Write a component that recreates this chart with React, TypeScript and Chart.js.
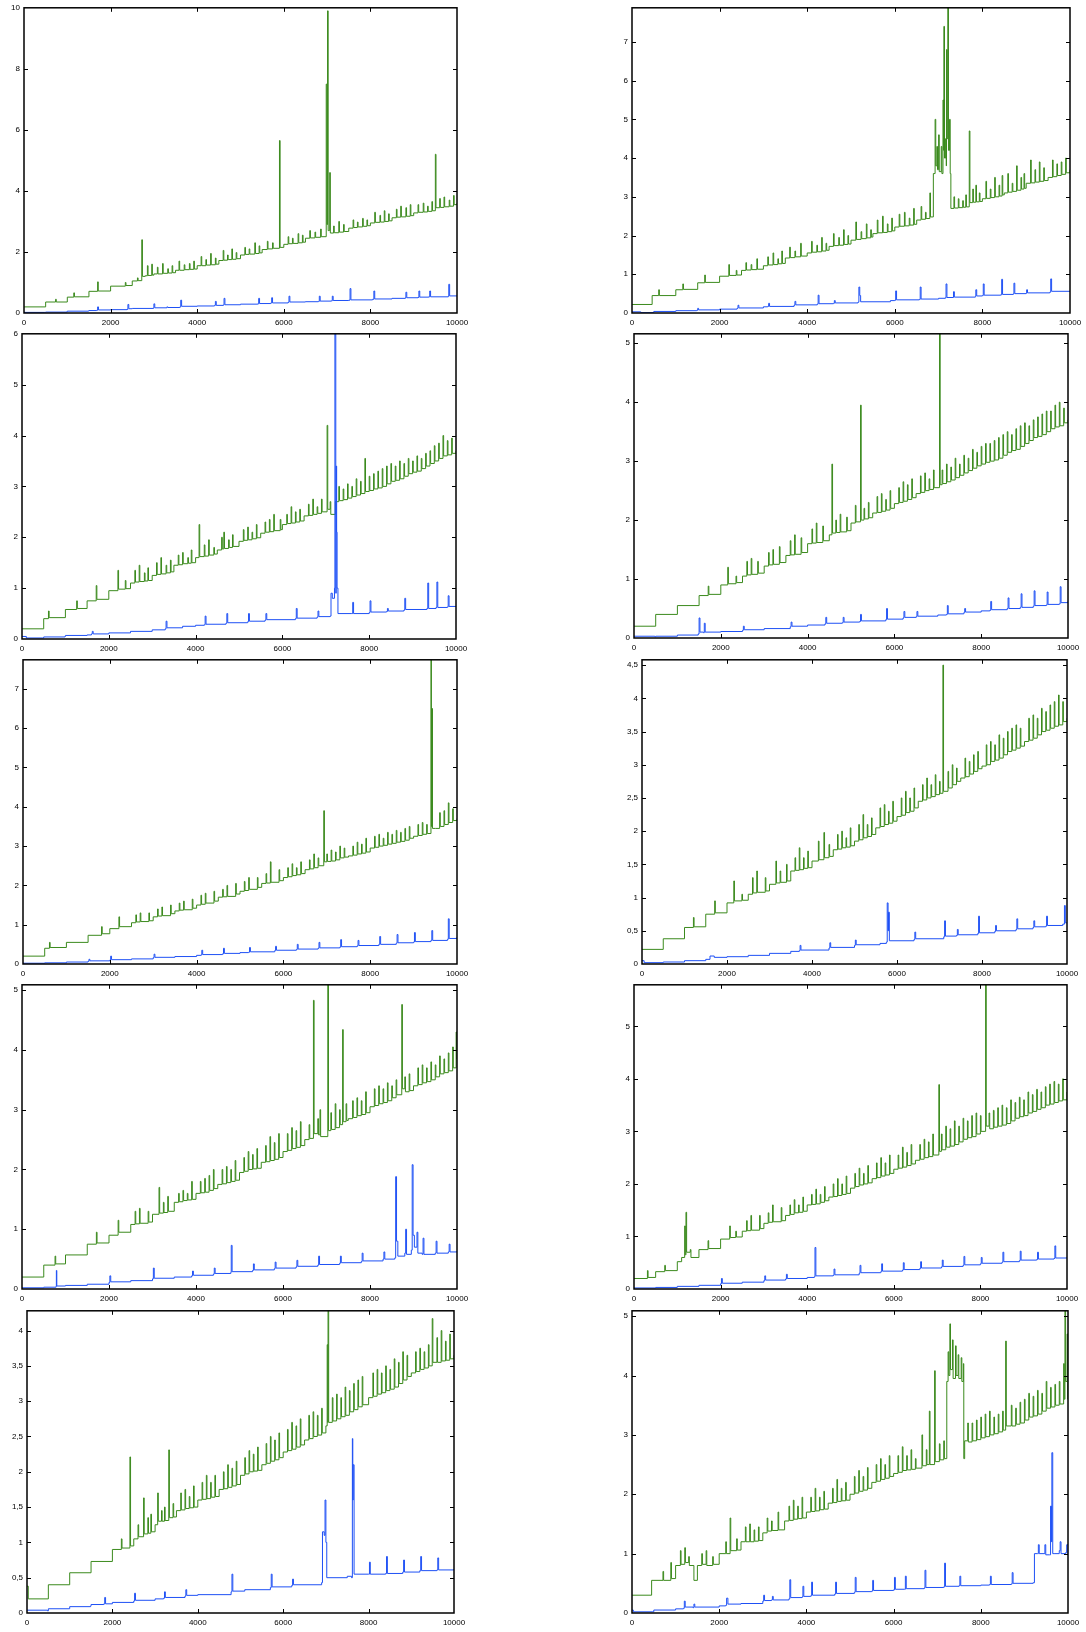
import React, { useEffect, useRef } from "react";
import { Chart, registerables } from "chart.js";

Chart.register(...registerables);

// ---------- data ----------
// green series: flat lists x0, y0, x1, y1, ...
const P1_GREEN = [0,0.2, 500,0.36, 730,0.45, 745,0.36, 1000,0.52, 1150,0.66, 1165,0.53, 1500,0.71, 1700,1.02, 1715,0.72, 2000,0.88, 2340,1.0, 2355,0.9, 2500,1.05, 2620,1.15, 2635,1.06, 2720,2.4, 2735,1.2, 2800,1.22, 2850,1.55, 2865,1.23, 2950,1.6, 2965,1.24, 3000,1.28, 3080,1.5, 3095,1.28, 3200,1.62, 3215,1.3, 3320,1.45, 3335,1.31, 3420,1.55, 3435,1.32, 3500,1.4, 3580,1.7, 3595,1.4, 3700,1.58, 3715,1.42, 3820,1.62, 3835,1.43, 3920,1.7, 3935,1.44, 4000,1.55, 4090,1.85, 4105,1.55, 4200,1.75, 4215,1.57, 4310,1.95, 4325,1.58, 4420,1.8, 4435,1.6, 4500,1.72, 4600,2.05, 4615,1.73, 4700,1.9, 4715,1.75, 4800,2.1, 4815,1.76, 4900,1.98, 4915,1.78, 5000,1.9, 5100,2.15, 5115,1.92, 5200,2.1, 5215,1.93, 5330,2.3, 5345,1.95, 5430,2.2, 5445,1.97, 5500,2.08, 5620,2.35, 5635,2.1, 5740,2.3, 5755,2.12, 5900,5.65, 5915,2.15, 6000,2.25, 6100,2.5, 6115,2.27, 6200,2.45, 6215,2.28, 6330,2.6, 6345,2.3, 6430,2.55, 6445,2.32, 6500,2.45, 6600,2.7, 6615,2.46, 6720,2.65, 6735,2.48, 6850,2.75, 6865,2.5, 6980,7.5, 6995,2.9, 7010,9.9, 7025,2.7, 7060,4.6, 7075,2.62, 7150,2.85, 7165,2.63, 7270,3.0, 7285,2.65, 7380,2.9, 7395,2.67, 7500,2.78, 7600,3.05, 7615,2.8, 7700,2.98, 7715,2.82, 7820,3.1, 7835,2.84, 7920,3.05, 7935,2.86, 8000,2.95, 8100,3.3, 8115,2.97, 8220,3.2, 8235,2.98, 8320,3.35, 8335,3.0, 8420,3.25, 8435,3.02, 8500,3.12, 8600,3.4, 8615,3.14, 8700,3.5, 8715,3.15, 8820,3.45, 8835,3.17, 8920,3.55, 8935,3.19, 9000,3.28, 9100,3.55, 9115,3.3, 9220,3.6, 9235,3.31, 9320,3.5, 9335,3.33, 9420,3.65, 9435,3.35, 9500,5.2, 9515,3.45, 9600,3.75, 9615,3.46, 9700,3.8, 9715,3.48, 9820,3.7, 9835,3.5, 9920,3.85, 9935,3.55, 10000,3.6];
const P2_GREEN = [0,0.22, 460,0.45, 610,0.6, 625,0.45, 1000,0.6, 1160,0.75, 1175,0.61, 1500,0.78, 1660,0.98, 1675,0.79, 2000,0.95, 2210,1.25, 2225,0.97, 2380,1.1, 2395,0.98, 2500,1.1, 2600,1.3, 2615,1.11, 2720,1.25, 2735,1.12, 2850,1.4, 2865,1.13, 3000,1.22, 3100,1.45, 3115,1.24, 3220,1.55, 3235,1.25, 3330,1.4, 3345,1.27, 3420,1.6, 3435,1.28, 3500,1.42, 3600,1.7, 3615,1.43, 3720,1.6, 3735,1.45, 3850,1.8, 3865,1.47, 4000,1.55, 4100,1.85, 4115,1.57, 4220,1.75, 4235,1.58, 4330,1.95, 4345,1.6, 4430,1.8, 4445,1.62, 4500,1.72, 4600,2.05, 4615,1.74, 4720,1.95, 4735,1.75, 4830,2.15, 4845,1.77, 4930,2.0, 4945,1.78, 5000,1.88, 5110,2.35, 5125,1.9, 5230,2.1, 5245,1.92, 5350,2.3, 5365,1.94, 5450,2.15, 5465,1.96, 5500,2.05, 5600,2.4, 5615,2.07, 5720,2.5, 5735,2.08, 5830,2.3, 5845,2.1, 5930,2.45, 5945,2.12, 6000,2.22, 6100,2.55, 6115,2.24, 6220,2.6, 6235,2.25, 6330,2.45, 6345,2.27, 6430,2.7, 6445,2.29, 6500,2.4, 6600,2.75, 6615,2.42, 6700,2.6, 6715,2.44, 6800,3.1, 6815,2.48, 6880,3.6, 6920,5.0, 6935,3.8, 6960,4.3, 6975,3.7, 7000,4.6, 7015,3.65, 7060,4.3, 7075,3.6, 7100,5.5, 7115,4.2, 7120,7.4, 7135,4.0, 7160,4.5, 7175,3.8, 7180,6.8, 7195,4.5, 7210,7.88, 7225,4.2, 7250,5.0, 7265,3.6, 7280,2.7, 7350,3.0, 7365,2.71, 7450,2.95, 7465,2.72, 7550,2.9, 7565,2.73, 7620,3.05, 7635,2.74, 7700,4.7, 7715,2.85, 7780,3.2, 7795,2.86, 7850,3.3, 7865,2.87, 7930,3.1, 7945,2.88, 8000,2.95, 8080,3.4, 8095,2.96, 8180,3.2, 8195,2.98, 8280,3.5, 8295,3.0, 8380,3.3, 8395,3.02, 8450,3.55, 8465,3.05, 8500,3.1, 8580,3.6, 8595,3.12, 8680,3.35, 8695,3.14, 8780,3.8, 8795,3.17, 8880,3.5, 8895,3.2, 8950,3.6, 8965,3.22, 9000,3.35, 9100,3.95, 9115,3.36, 9200,3.7, 9215,3.38, 9300,3.9, 9315,3.4, 9400,3.75, 9415,3.42, 9500,3.5, 9600,3.95, 9615,3.52, 9700,3.85, 9715,3.55, 9800,3.9, 9815,3.58, 9900,4.0, 9915,3.62, 10000,3.7];
const P3_GREEN = [0,0.2, 500,0.4, 610,0.55, 625,0.42, 1000,0.58, 1260,0.75, 1275,0.6, 1500,0.75, 1710,1.05, 1725,0.78, 2000,0.95, 2210,1.35, 2225,0.98, 2380,1.15, 2395,0.99, 2500,1.1, 2600,1.35, 2615,1.12, 2700,1.45, 2715,1.13, 2820,1.3, 2835,1.14, 2900,1.4, 2915,1.15, 3000,1.25, 3100,1.5, 3115,1.27, 3200,1.6, 3215,1.28, 3320,1.45, 3335,1.3, 3420,1.55, 3435,1.32, 3500,1.45, 3600,1.65, 3615,1.46, 3700,1.7, 3715,1.48, 3820,1.6, 3835,1.49, 3900,1.75, 3915,1.5, 4000,1.6, 4080,2.25, 4095,1.62, 4200,1.85, 4215,1.63, 4300,1.95, 4315,1.65, 4420,1.8, 4435,1.67, 4500,1.75, 4600,2.0, 4615,1.77, 4650,2.1, 4665,1.78, 4760,1.95, 4775,1.8, 4850,2.05, 4865,1.82, 5000,1.92, 5100,2.15, 5115,1.94, 5200,2.2, 5215,1.95, 5300,2.1, 5315,1.97, 5400,2.25, 5415,1.99, 5500,2.08, 5600,2.3, 5615,2.1, 5700,2.35, 5715,2.11, 5800,2.45, 5815,2.13, 5950,2.35, 5965,2.15, 6000,2.25, 6100,2.45, 6115,2.27, 6200,2.6, 6215,2.28, 6300,2.5, 6315,2.3, 6400,2.55, 6415,2.32, 6500,2.42, 6600,2.65, 6615,2.43, 6700,2.75, 6715,2.45, 6800,2.6, 6815,2.47, 6900,2.75, 6915,2.5, 7030,4.2, 7045,2.55, 7100,2.7, 7115,2.45, 7220,2.7, 7300,3.0, 7315,2.72, 7400,2.95, 7415,2.74, 7500,3.05, 7515,2.77, 7600,3.0, 7615,2.8, 7700,3.15, 7715,2.83, 7800,3.1, 7815,2.86, 7900,3.55, 7915,2.9, 8000,3.2, 8015,2.92, 8100,3.25, 8115,2.95, 8200,3.3, 8215,2.97, 8300,3.35, 8315,3.0, 8400,3.4, 8415,3.05, 8500,3.45, 8515,3.1, 8600,3.4, 8615,3.12, 8700,3.5, 8715,3.15, 8800,3.45, 8815,3.2, 8900,3.55, 8915,3.25, 9000,3.5, 9015,3.28, 9100,3.6, 9115,3.3, 9200,3.55, 9215,3.35, 9300,3.65, 9315,3.4, 9400,3.7, 9415,3.45, 9500,3.8, 9515,3.5, 9600,3.85, 9615,3.55, 9700,4.0, 9715,3.6, 9800,3.9, 9815,3.62, 9900,3.95, 9915,3.65, 10000,3.7];
const P4_GREEN = [0,0.2, 500,0.4, 1000,0.55, 1500,0.72, 1710,0.88, 1725,0.74, 2000,0.9, 2160,1.2, 2175,0.92, 2350,1.05, 2365,0.94, 2500,1.05, 2600,1.3, 2615,1.07, 2700,1.35, 2715,1.08, 2850,1.3, 2865,1.1, 3000,1.22, 3100,1.45, 3115,1.24, 3200,1.5, 3215,1.25, 3350,1.55, 3365,1.28, 3500,1.4, 3600,1.65, 3615,1.41, 3700,1.75, 3715,1.42, 3850,1.7, 3865,1.45, 4000,1.6, 4100,1.85, 4115,1.61, 4200,1.95, 4215,1.62, 4350,1.9, 4365,1.65, 4500,1.75, 4560,2.95, 4575,1.78, 4650,2.0, 4665,1.79, 4750,2.1, 4765,1.8, 4900,2.05, 4915,1.82, 5000,1.95, 5100,2.25, 5115,1.97, 5220,3.95, 5235,2.0, 5300,2.2, 5315,2.02, 5400,2.3, 5415,2.04, 5500,2.12, 5600,2.4, 5615,2.13, 5700,2.45, 5715,2.15, 5800,2.35, 5815,2.17, 5900,2.5, 5915,2.2, 6000,2.28, 6100,2.55, 6115,2.3, 6200,2.65, 6215,2.32, 6300,2.6, 6315,2.35, 6400,2.7, 6415,2.38, 6500,2.45, 6600,2.75, 6615,2.47, 6700,2.8, 6715,2.5, 6800,2.7, 6815,2.52, 6900,2.85, 6915,2.55, 7040,5.16, 7055,2.6, 7100,2.85, 7115,2.62, 7200,2.95, 7215,2.65, 7300,2.9, 7315,2.68, 7400,3.05, 7415,2.72, 7500,2.95, 7515,2.76, 7600,3.1, 7615,2.8, 7700,3.05, 7715,2.84, 7800,3.2, 7815,2.88, 7900,3.15, 7915,2.92, 8000,3.25, 8015,2.95, 8100,3.3, 8115,2.98, 8200,3.3, 8215,3.0, 8300,3.35, 8315,3.02, 8400,3.4, 8415,3.05, 8500,3.45, 8515,3.1, 8600,3.5, 8615,3.15, 8700,3.45, 8715,3.18, 8800,3.55, 8815,3.2, 8900,3.6, 8915,3.25, 9000,3.65, 9015,3.3, 9100,3.6, 9115,3.35, 9200,3.7, 9215,3.4, 9300,3.75, 9315,3.42, 9400,3.8, 9415,3.45, 9500,3.85, 9515,3.5, 9600,3.85, 9615,3.55, 9700,3.95, 9715,3.58, 9800,4.0, 9815,3.6, 9900,3.9, 9915,3.65, 10000,3.7];
const P5_GREEN = [0,0.2, 500,0.4, 610,0.55, 625,0.42, 1000,0.55, 1500,0.73, 1810,0.95, 1825,0.77, 2000,0.9, 2210,1.2, 2225,0.95, 2500,1.05, 2600,1.25, 2615,1.07, 2700,1.3, 2715,1.08, 2900,1.3, 2915,1.1, 3000,1.2, 3100,1.4, 3115,1.22, 3200,1.45, 3215,1.23, 3400,1.5, 3415,1.28, 3500,1.35, 3600,1.55, 3615,1.37, 3700,1.6, 3715,1.38, 3900,1.65, 3915,1.42, 4000,1.5, 4100,1.75, 4115,1.52, 4200,1.8, 4215,1.55, 4400,1.85, 4415,1.6, 4500,1.7, 4600,1.9, 4615,1.71, 4700,2.0, 4715,1.72, 4900,2.05, 4915,1.78, 5000,1.85, 5100,2.1, 5115,1.87, 5200,2.2, 5215,1.9, 5400,2.2, 5415,1.95, 5500,2.05, 5600,2.3, 5615,2.06, 5700,2.6, 5715,2.08, 5900,2.4, 5915,2.12, 6000,2.2, 6100,2.45, 6115,2.22, 6200,2.55, 6215,2.25, 6300,2.45, 6315,2.27, 6400,2.6, 6415,2.3, 6500,2.4, 6600,2.65, 6615,2.42, 6700,2.8, 6715,2.45, 6800,2.7, 6815,2.5, 6930,3.9, 6945,2.6, 7000,2.8, 7015,2.61, 7100,2.9, 7115,2.62, 7200,2.85, 7215,2.65, 7300,3.0, 7315,2.7, 7400,2.95, 7415,2.72, 7500,2.75, 7600,3.0, 7615,2.77, 7700,3.1, 7715,2.8, 7800,3.05, 7815,2.82, 7900,3.2, 7915,2.85, 8000,2.95, 8100,3.25, 8115,2.97, 8200,3.3, 8215,3.0, 8300,3.2, 8315,3.02, 8400,3.35, 8415,3.05, 8500,3.3, 8515,3.07, 8600,3.4, 8615,3.1, 8700,3.35, 8715,3.12, 8800,3.45, 8815,3.15, 8900,3.5, 8915,3.2, 9000,3.25, 9100,3.55, 9115,3.27, 9200,3.6, 9215,3.3, 9300,3.55, 9315,3.32, 9400,7.74, 9410,3.5, 9420,6.5, 9435,3.45, 9500,3.45, 9600,3.85, 9615,3.5, 9700,3.9, 9715,3.55, 9800,4.1, 9815,3.6, 9900,3.95, 9915,3.65, 10000,3.7];
const P6_GREEN = [0,0.22, 500,0.38, 1000,0.55, 1210,0.7, 1225,0.56, 1500,0.75, 1710,0.95, 1725,0.77, 2000,0.92, 2160,1.25, 2175,0.95, 2350,1.05, 2365,0.96, 2500,1.05, 2600,1.3, 2615,1.07, 2700,1.4, 2715,1.08, 2900,1.3, 2915,1.1, 3000,1.2, 3150,1.55, 3165,1.22, 3250,1.4, 3265,1.23, 3400,1.5, 3415,1.25, 3500,1.4, 3600,1.6, 3615,1.41, 3700,1.75, 3715,1.42, 3800,1.6, 3815,1.44, 3900,1.7, 3915,1.45, 4000,1.55, 4150,1.85, 4165,1.57, 4280,1.98, 4295,1.6, 4400,1.8, 4415,1.62, 4500,1.72, 4600,1.95, 4615,1.73, 4700,2.0, 4715,1.75, 4800,1.9, 4815,1.76, 4900,2.05, 4915,1.78, 5000,1.85, 5100,2.1, 5115,1.87, 5200,2.25, 5215,1.9, 5300,2.1, 5315,1.92, 5400,2.2, 5415,1.95, 5500,2.05, 5600,2.35, 5615,2.07, 5700,2.4, 5715,2.1, 5800,2.3, 5815,2.12, 5900,2.45, 5915,2.15, 6000,2.22, 6100,2.5, 6115,2.24, 6200,2.6, 6215,2.28, 6300,2.5, 6315,2.3, 6400,2.65, 6415,2.35, 6500,2.45, 6600,2.7, 6615,2.47, 6700,2.8, 6715,2.5, 6800,2.7, 6815,2.52, 6900,2.85, 6915,2.55, 7000,2.75, 7015,2.57, 7080,4.5, 7095,2.6, 7200,2.9, 7215,2.65, 7300,3.0, 7315,2.7, 7400,2.95, 7415,2.75, 7500,2.8, 7600,3.1, 7615,2.82, 7700,3.05, 7715,2.86, 7800,3.15, 7815,2.9, 7900,3.2, 7915,2.94, 8000,2.98, 8100,3.3, 8115,3.0, 8200,3.35, 8215,3.05, 8300,3.3, 8315,3.07, 8400,3.45, 8415,3.1, 8500,3.4, 8515,3.15, 8600,3.5, 8615,3.2, 8700,3.55, 8715,3.22, 8800,3.6, 8815,3.25, 8900,3.55, 8915,3.28, 9000,3.35, 9100,3.7, 9115,3.37, 9200,3.75, 9215,3.4, 9300,3.7, 9315,3.45, 9400,3.85, 9415,3.5, 9500,3.8, 9515,3.52, 9600,3.9, 9615,3.55, 9700,3.95, 9715,3.58, 9800,4.05, 9815,3.6, 9900,3.95, 9915,3.65, 10000,3.7];
const P7_GREEN = [0,0.2, 500,0.4, 760,0.55, 775,0.42, 1000,0.57, 1500,0.75, 1710,0.95, 1725,0.77, 2000,0.9, 2210,1.15, 2225,0.95, 2500,1.08, 2600,1.3, 2615,1.09, 2700,1.35, 2715,1.1, 2900,1.3, 2915,1.12, 3000,1.25, 3150,1.7, 3165,1.27, 3250,1.45, 3265,1.28, 3350,1.55, 3365,1.3, 3500,1.45, 3600,1.6, 3615,1.46, 3700,1.65, 3715,1.48, 3800,1.6, 3815,1.49, 3900,1.8, 3915,1.5, 4000,1.6, 4100,1.8, 4115,1.61, 4200,1.85, 4215,1.62, 4300,1.9, 4315,1.65, 4400,2.0, 4415,1.68, 4500,1.75, 4600,2.0, 4615,1.76, 4700,2.05, 4715,1.78, 4800,2.0, 4815,1.8, 4900,2.15, 4915,1.82, 5000,1.95, 5100,2.2, 5115,1.97, 5200,2.3, 5215,2.0, 5300,2.25, 5315,2.01, 5400,2.35, 5415,2.02, 5500,2.12, 5600,2.4, 5615,2.13, 5700,2.55, 5715,2.15, 5800,2.45, 5815,2.17, 5900,2.6, 5915,2.2, 6000,2.3, 6100,2.6, 6115,2.32, 6200,2.7, 6215,2.35, 6300,2.65, 6315,2.37, 6400,2.8, 6415,2.4, 6500,2.5, 6600,2.75, 6615,2.52, 6700,4.83, 6715,2.6, 6800,2.85, 6815,2.58, 6850,3.0, 6865,2.55, 7030,5.09, 7045,2.65, 7100,2.95, 7115,2.67, 7200,3.1, 7215,2.7, 7300,3.0, 7315,2.75, 7370,4.34, 7385,2.8, 7450,3.1, 7465,2.82, 7500,2.85, 7600,3.15, 7615,2.87, 7700,3.2, 7715,2.9, 7800,3.15, 7815,2.92, 7900,3.3, 7915,2.95, 8000,3.05, 8100,3.35, 8115,3.07, 8200,3.4, 8215,3.1, 8300,3.35, 8315,3.12, 8400,3.45, 8415,3.15, 8500,3.4, 8515,3.2, 8600,3.5, 8615,3.25, 8730,4.76, 8745,3.35, 8800,3.55, 8815,3.3, 8900,3.6, 8915,3.32, 9000,3.4, 9100,3.7, 9115,3.42, 9200,3.75, 9215,3.45, 9300,3.7, 9315,3.47, 9400,3.8, 9415,3.5, 9500,3.75, 9515,3.55, 9600,3.9, 9615,3.6, 9700,3.85, 9715,3.62, 9800,3.95, 9815,3.65, 9900,4.05, 9915,3.7, 9980,4.3, 9995,3.85, 10000,3.85];
const P8_GREEN = [0,0.2, 310,0.35, 325,0.22, 500,0.33, 710,0.45, 725,0.35, 1000,0.52, 1100,0.6, 1170,1.2, 1185,0.65, 1200,1.46, 1215,0.7, 1300,0.75, 1315,0.6, 1500,0.75, 1710,0.92, 1725,0.77, 2000,0.95, 2210,1.2, 2225,0.98, 2350,1.1, 2365,0.99, 2500,1.1, 2600,1.3, 2615,1.11, 2700,1.4, 2715,1.12, 2900,1.4, 2915,1.15, 3000,1.25, 3100,1.45, 3115,1.27, 3200,1.6, 3215,1.28, 3400,1.55, 3415,1.3, 3500,1.4, 3600,1.6, 3615,1.42, 3700,1.7, 3715,1.45, 3800,1.6, 3815,1.46, 3900,1.75, 3915,1.48, 4000,1.6, 4100,1.8, 4115,1.61, 4200,1.9, 4215,1.62, 4300,1.8, 4315,1.65, 4400,1.95, 4415,1.68, 4500,1.75, 4600,2.0, 4615,1.76, 4700,2.1, 4715,1.78, 4800,2.0, 4815,1.8, 4900,2.15, 4915,1.82, 5000,1.92, 5100,2.2, 5115,1.95, 5200,2.3, 5215,1.98, 5300,2.2, 5315,2.0, 5400,2.35, 5415,2.02, 5500,2.1, 5600,2.4, 5615,2.12, 5700,2.5, 5715,2.15, 5800,2.4, 5815,2.17, 5900,2.55, 5915,2.2, 6000,2.28, 6100,2.55, 6115,2.3, 6200,2.7, 6215,2.32, 6300,2.6, 6315,2.35, 6400,2.75, 6415,2.38, 6500,2.45, 6600,2.75, 6615,2.47, 6700,2.85, 6715,2.5, 6800,2.8, 6815,2.52, 6900,2.95, 6915,2.55, 7040,3.89, 7055,2.62, 7100,2.95, 7115,2.65, 7200,3.1, 7215,2.7, 7300,3.05, 7315,2.72, 7400,3.2, 7415,2.75, 7500,3.1, 7515,2.8, 7600,3.25, 7615,2.85, 7700,3.2, 7715,2.88, 7800,3.3, 7815,2.9, 7900,3.35, 7915,2.95, 8000,3.3, 8015,3.0, 8120,5.79, 8135,3.1, 8200,3.35, 8215,3.05, 8300,3.4, 8315,3.08, 8400,3.45, 8415,3.1, 8500,3.5, 8515,3.12, 8600,3.45, 8615,3.15, 8700,3.6, 8715,3.2, 8800,3.55, 8815,3.25, 8900,3.65, 8915,3.28, 9000,3.6, 9015,3.3, 9100,3.75, 9115,3.35, 9200,3.7, 9215,3.38, 9300,3.8, 9315,3.42, 9400,3.75, 9415,3.45, 9500,3.85, 9515,3.5, 9600,3.9, 9615,3.52, 9700,3.95, 9715,3.55, 9800,3.9, 9815,3.58, 9900,4.0, 9915,3.6, 10000,3.75];
const P9_GREEN = [0,0.38, 30,0.2, 500,0.4, 1000,0.57, 1500,0.73, 2000,0.9, 2210,1.05, 2225,0.92, 2410,2.21, 2425,0.95, 2500,1.05, 2600,1.25, 2615,1.08, 2730,1.63, 2745,1.12, 2830,1.35, 2845,1.13, 2900,1.4, 2915,1.15, 3000,1.25, 3060,1.7, 3075,1.3, 3150,1.45, 3165,1.3, 3220,1.5, 3235,1.31, 3320,2.31, 3335,1.35, 3420,1.55, 3435,1.36, 3500,1.45, 3600,1.7, 3615,1.46, 3700,1.75, 3715,1.48, 3800,1.65, 3815,1.49, 3900,1.8, 3915,1.5, 4000,1.6, 4100,1.85, 4115,1.61, 4200,1.95, 4215,1.62, 4300,1.85, 4315,1.64, 4400,1.95, 4415,1.65, 4500,1.75, 4600,2.0, 4615,1.76, 4700,2.1, 4715,1.78, 4800,2.05, 4815,1.8, 4900,2.15, 4915,1.82, 5000,1.95, 5100,2.2, 5115,1.97, 5200,2.3, 5215,2.0, 5300,2.25, 5315,2.01, 5400,2.35, 5415,2.02, 5500,2.1, 5600,2.4, 5615,2.12, 5700,2.5, 5715,2.15, 5800,2.45, 5815,2.17, 5900,2.55, 5915,2.2, 6000,2.28, 6100,2.6, 6115,2.3, 6200,2.7, 6215,2.32, 6300,2.65, 6315,2.35, 6400,2.75, 6415,2.38, 6500,2.45, 6600,2.8, 6615,2.47, 6700,2.85, 6715,2.5, 6800,2.8, 6815,2.52, 6900,2.9, 6915,2.55, 7000,2.65, 7030,3.8, 7045,2.7, 7050,4.28, 7065,2.7, 7150,3.05, 7165,2.72, 7250,3.1, 7265,2.75, 7350,3.05, 7365,2.78, 7450,3.2, 7465,2.8, 7550,3.15, 7565,2.85, 7650,3.25, 7665,2.88, 7750,3.3, 7765,2.92, 7850,3.35, 7865,2.95, 8000,3.05, 8100,3.4, 8115,3.07, 8200,3.45, 8215,3.1, 8300,3.4, 8315,3.12, 8400,3.5, 8415,3.15, 8500,3.45, 8515,3.17, 8600,3.6, 8615,3.2, 8700,3.55, 8715,3.25, 8800,3.7, 8815,3.3, 8900,3.65, 8915,3.35, 9000,3.4, 9100,3.7, 9115,3.42, 9200,3.75, 9215,3.45, 9300,3.7, 9315,3.47, 9400,3.8, 9415,3.5, 9490,4.17, 9505,3.55, 9600,3.9, 9615,3.55, 9700,4.0, 9715,3.57, 9800,3.85, 9815,3.58, 9900,3.95, 9915,3.6, 10000,3.65];
const P10_GREEN = [0,0.3, 450,0.55, 710,0.7, 725,0.55, 890,0.85, 905,0.58, 1000,0.8, 1110,1.05, 1125,0.82, 1210,1.1, 1225,0.85, 1300,0.95, 1315,0.8, 1420,0.55, 1500,0.8, 1600,1.0, 1615,0.82, 1700,1.05, 1715,0.8, 1850,0.95, 1865,0.82, 2000,1.0, 2150,1.2, 2165,1.0, 2250,1.6, 2265,1.05, 2400,1.25, 2415,1.06, 2500,1.2, 2600,1.45, 2615,1.2, 2700,1.5, 2715,1.2, 2800,1.4, 2815,1.21, 2900,1.45, 2915,1.22, 3000,1.35, 3100,1.6, 3115,1.38, 3200,1.55, 3215,1.39, 3350,1.7, 3365,1.4, 3500,1.55, 3600,1.8, 3615,1.56, 3700,1.9, 3715,1.58, 3800,1.8, 3815,1.59, 3900,1.95, 3915,1.6, 4000,1.7, 4100,1.95, 4115,1.71, 4200,2.1, 4215,1.72, 4300,1.95, 4315,1.74, 4400,2.05, 4415,1.75, 4500,1.85, 4600,2.1, 4615,1.86, 4700,2.25, 4715,1.88, 4800,2.1, 4815,1.89, 4900,2.2, 4915,1.9, 5000,2.0, 5100,2.3, 5115,2.02, 5200,2.4, 5215,2.05, 5300,2.3, 5315,2.07, 5400,2.45, 5415,2.1, 5500,2.2, 5600,2.5, 5615,2.22, 5700,2.6, 5715,2.25, 5800,2.5, 5815,2.27, 5900,2.65, 5915,2.3, 6000,2.35, 6100,2.65, 6115,2.37, 6200,2.8, 6215,2.4, 6300,2.65, 6315,2.41, 6400,2.75, 6415,2.42, 6500,2.6, 6515,2.44, 6650,3.0, 6665,2.48, 6750,2.75, 6765,2.5, 6820,3.4, 6835,2.5, 6940,4.08, 6955,2.55, 7050,2.85, 7065,2.58, 7150,2.9, 7165,2.6, 7220,3.9, 7250,4.4, 7265,4.0, 7290,4.87, 7305,4.1, 7350,4.6, 7365,3.95, 7420,4.5, 7435,4.0, 7480,4.35, 7495,3.95, 7550,4.3, 7565,3.9, 7600,4.2, 7610,2.6, 7630,2.9, 7700,3.2, 7715,2.88, 7800,3.2, 7815,2.9, 7900,3.25, 7915,2.92, 8000,3.3, 8015,2.95, 8100,3.35, 8115,2.97, 8200,3.4, 8215,3.0, 8300,3.3, 8315,3.02, 8400,3.35, 8415,3.05, 8500,3.4, 8515,3.08, 8570,4.58, 8585,3.15, 8700,3.5, 8715,3.15, 8800,3.45, 8815,3.18, 8900,3.55, 8915,3.2, 9000,3.6, 9015,3.25, 9100,3.7, 9115,3.3, 9200,3.65, 9215,3.32, 9300,3.75, 9315,3.35, 9400,3.7, 9415,3.4, 9500,3.9, 9515,3.45, 9600,3.8, 9615,3.47, 9700,3.85, 9715,3.5, 9800,3.9, 9815,3.52, 9900,4.2, 9915,3.6, 9930,5.09, 9945,3.9, 9980,4.7, 9995,3.6, 10000,3.6];

// blue series: [x, y] pairs
const P1_BLUE = [[0,0.02],[480,0.02],[500,0.03],[990,0.04],[1000,0.06],[1490,0.07],[1500,0.08],[1680,0.09],[1700,0.2],[1720,0.1],[2000,0.11],[2380,0.12],[2400,0.28],[2420,0.14],[2500,0.15],[2990,0.16],[3000,0.3],[3020,0.17],[3300,0.2],[3320,0.18],[3600,0.2],[3620,0.42],[3640,0.22],[4000,0.23],[4400,0.25],[4420,0.38],[4440,0.25],[4600,0.26],[4620,0.48],[4640,0.27],[5000,0.29],[5400,0.3],[5420,0.48],[5440,0.31],[5700,0.33],[5720,0.5],[5740,0.33],[6100,0.35],[6120,0.55],[6140,0.36],[6500,0.37],[6800,0.38],[6820,0.55],[6840,0.39],[7100,0.4],[7120,0.55],[7140,0.41],[7500,0.42],[7530,0.8],[7550,0.43],[8050,0.45],[8080,0.72],[8100,0.46],[8500,0.48],[8800,0.49],[8820,0.68],[8840,0.5],[9100,0.51],[9120,0.72],[9140,0.52],[9350,0.53],[9370,0.72],[9390,0.53],[9800,0.55],[9810,0.94],[9830,0.56],[10000,0.56]];
const P2_BLUE = [[0,0.03],[200,0.01],[480,0.02],[500,0.04],[1000,0.06],[1480,0.07],[1500,0.12],[1520,0.08],[2000,0.1],[2400,0.12],[2420,0.2],[2440,0.13],[3000,0.16],[3100,0.17],[3120,0.25],[3140,0.17],[3700,0.2],[3720,0.3],[3740,0.21],[4230,0.23],[4250,0.46],[4270,0.24],[4600,0.25],[4620,0.32],[4640,0.26],[5160,0.28],[5180,0.67],[5200,0.45],[5220,0.29],[5900,0.32],[6000,0.33],[6020,0.57],[6040,0.34],[6560,0.35],[6580,0.67],[6600,0.36],[7000,0.38],[7150,0.39],[7170,0.75],[7190,0.4],[7330,0.4],[7340,0.55],[7360,0.41],[7840,0.43],[7850,0.6],[7870,0.44],[8000,0.45],[8020,0.75],[8040,0.46],[8420,0.47],[8440,0.87],[8460,0.48],[8700,0.49],[8720,0.77],[8740,0.5],[9000,0.51],[9010,0.6],[9030,0.52],[9540,0.54],[9560,0.88],[9580,0.56],[10000,0.57]];
const P3_BLUE = [[0,0.05],[100,0.02],[480,0.02],[500,0.04],[990,0.05],[1000,0.07],[1500,0.08],[1600,0.1],[1620,0.15],[1640,0.1],[2000,0.12],[2500,0.15],[3000,0.18],[3300,0.2],[3320,0.35],[3340,0.22],[3700,0.25],[4000,0.27],[4200,0.28],[4220,0.45],[4240,0.29],[4700,0.31],[4720,0.5],[4740,0.32],[5200,0.34],[5220,0.5],[5240,0.35],[5600,0.37],[5620,0.5],[5640,0.38],[6300,0.4],[6320,0.6],[6340,0.41],[6800,0.43],[6820,0.55],[6840,0.44],[7100,0.45],[7120,0.9],[7150,0.8],[7200,1.0],[7210,6.0],[7230,0.9],[7240,3.4],[7250,2.1],[7260,1.0],[7280,0.5],[7600,0.5],[7620,0.72],[7640,0.5],[8000,0.52],[8020,0.75],[8040,0.53],[8400,0.54],[8420,0.6],[8440,0.55],[8800,0.57],[8820,0.8],[8840,0.58],[9330,0.6],[9350,1.1],[9370,0.6],[9540,0.62],[9560,1.12],[9580,0.62],[9800,0.63],[9820,0.85],[9840,0.64],[10000,0.65]];
const P4_BLUE = [[0,0.03],[480,0.02],[500,0.03],[1000,0.05],[1480,0.07],[1500,0.34],[1520,0.1],[1600,0.09],[1620,0.25],[1640,0.1],[2000,0.11],[2500,0.13],[2520,0.2],[2540,0.14],[3000,0.16],[3600,0.19],[3620,0.27],[3640,0.2],[4000,0.22],[4400,0.24],[4420,0.35],[4440,0.25],[4800,0.26],[4820,0.35],[4840,0.27],[5200,0.28],[5220,0.4],[5240,0.29],[5800,0.31],[5820,0.5],[5840,0.32],[6200,0.34],[6220,0.45],[6240,0.35],[6500,0.36],[6520,0.45],[6540,0.37],[7000,0.39],[7200,0.4],[7220,0.55],[7240,0.41],[7600,0.43],[7620,0.5],[7640,0.44],[8000,0.46],[8200,0.47],[8220,0.62],[8240,0.48],[8600,0.5],[8620,0.68],[8640,0.5],[8900,0.52],[8920,0.75],[8940,0.52],[9200,0.54],[9220,0.8],[9240,0.55],[9500,0.56],[9520,0.78],[9540,0.57],[9800,0.58],[9820,0.87],[9840,0.6],[10000,0.62]];
const P5_BLUE = [[0,0.02],[500,0.03],[1000,0.05],[1500,0.07],[1520,0.12],[1540,0.08],[2000,0.1],[2020,0.2],[2040,0.11],[2500,0.13],[3000,0.16],[3020,0.25],[3040,0.17],[3500,0.19],[4000,0.22],[4100,0.23],[4120,0.35],[4140,0.24],[4600,0.26],[4620,0.4],[4640,0.27],[5000,0.29],[5200,0.3],[5220,0.42],[5240,0.31],[5800,0.34],[5820,0.45],[5840,0.35],[6300,0.37],[6320,0.5],[6340,0.38],[6800,0.4],[6820,0.55],[6840,0.41],[7300,0.43],[7320,0.62],[7340,0.44],[7700,0.46],[7720,0.6],[7740,0.47],[8200,0.5],[8220,0.7],[8240,0.5],[8600,0.53],[8620,0.75],[8640,0.54],[9000,0.56],[9020,0.8],[9040,0.57],[9400,0.6],[9420,0.85],[9440,0.6],[9780,0.63],[9800,1.15],[9820,0.65],[10000,0.68]];
const P6_BLUE = [[0,0.05],[50,0.02],[500,0.03],[1000,0.05],[1500,0.07],[1600,0.12],[1700,0.1],[2000,0.11],[2500,0.13],[3000,0.16],[3500,0.19],[3700,0.2],[3720,0.28],[3740,0.21],[4400,0.24],[4420,0.32],[4440,0.25],[5000,0.28],[5020,0.36],[5040,0.29],[5600,0.31],[5750,0.33],[5770,0.92],[5790,0.5],[5800,0.78],[5820,0.35],[6400,0.37],[6420,0.48],[6440,0.38],[7100,0.41],[7120,0.65],[7140,0.42],[7400,0.43],[7420,0.52],[7440,0.44],[7900,0.46],[7920,0.72],[7940,0.47],[8300,0.49],[8320,0.58],[8340,0.5],[8800,0.52],[8820,0.68],[8840,0.53],[9200,0.55],[9220,0.65],[9240,0.56],[9500,0.57],[9520,0.72],[9540,0.58],[9900,0.6],[9940,0.88],[9960,0.62],[10000,0.62]];
const P7_BLUE = [[0,0.02],[500,0.03],[780,0.04],[790,0.31],[800,0.05],[1000,0.06],[1500,0.08],[2000,0.11],[2020,0.22],[2040,0.12],[2500,0.14],[3000,0.17],[3020,0.35],[3040,0.18],[3500,0.2],[3900,0.22],[3920,0.3],[3940,0.23],[4400,0.25],[4420,0.35],[4440,0.26],[4800,0.28],[4810,0.73],[4830,0.29],[5300,0.31],[5320,0.42],[5340,0.32],[5800,0.34],[5820,0.45],[5840,0.35],[6300,0.37],[6320,0.48],[6340,0.38],[6800,0.4],[6820,0.55],[6840,0.41],[7300,0.43],[7320,0.55],[7340,0.44],[7800,0.46],[7820,0.6],[7840,0.47],[8300,0.5],[8320,0.62],[8340,0.5],[8570,0.52],[8590,1.88],[8610,0.8],[8640,0.55],[8800,0.6],[8820,1.0],[8840,0.58],[8950,0.65],[8970,2.08],[8990,0.9],[9020,0.7],[9080,0.95],[9100,0.6],[9200,0.58],[9220,0.85],[9240,0.58],[9500,0.6],[9520,0.8],[9540,0.6],[9800,0.62],[9820,0.75],[9840,0.62],[10000,0.63]];
const P8_BLUE = [[0,0.02],[500,0.03],[1000,0.05],[1500,0.07],[2000,0.1],[2020,0.2],[2040,0.11],[2500,0.13],[3000,0.16],[3020,0.25],[3040,0.17],[3500,0.19],[3520,0.28],[3540,0.2],[4000,0.22],[4160,0.23],[4180,0.79],[4200,0.25],[4600,0.26],[4620,0.38],[4640,0.27],[5200,0.3],[5220,0.45],[5240,0.31],[5700,0.33],[5720,0.48],[5740,0.34],[6200,0.36],[6220,0.5],[6240,0.37],[6600,0.39],[6620,0.52],[6640,0.4],[7100,0.42],[7120,0.55],[7140,0.43],[7600,0.45],[7620,0.62],[7640,0.46],[8000,0.48],[8020,0.6],[8040,0.49],[8500,0.51],[8520,0.7],[8540,0.52],[8900,0.54],[8920,0.72],[8940,0.55],[9300,0.56],[9320,0.7],[9340,0.57],[9700,0.58],[9720,0.82],[9740,0.59],[10000,0.6]];
const P9_BLUE = [[0,0.04],[480,0.03],[500,0.06],[990,0.06],[1000,0.09],[1490,0.1],[1500,0.12],[1800,0.13],[1820,0.22],[1840,0.13],[2000,0.15],[2500,0.17],[2520,0.28],[2540,0.18],[3000,0.2],[3200,0.21],[3220,0.3],[3240,0.22],[3700,0.24],[3720,0.33],[3740,0.25],[4000,0.26],[4780,0.3],[4800,0.55],[4820,0.31],[5100,0.33],[5700,0.36],[5720,0.55],[5740,0.37],[6200,0.39],[6220,0.48],[6240,0.4],[6900,0.43],[6920,1.15],[6960,1.1],[6980,1.6],[7000,1.0],[7020,0.5],[7500,0.52],[7600,0.5],[7620,2.47],[7630,1.6],[7640,2.1],[7660,0.55],[8000,0.55],[8020,0.72],[8040,0.55],[8400,0.56],[8420,0.8],[8440,0.56],[8800,0.58],[8820,0.75],[8840,0.58],[9200,0.6],[9220,0.8],[9240,0.6],[9600,0.61],[9620,0.78],[9640,0.61],[10000,0.62]];
const P10_BLUE = [[0,0.05],[30,0.02],[480,0.02],[500,0.05],[1000,0.07],[1180,0.08],[1200,0.2],[1220,0.1],[1400,0.09],[1420,0.15],[1440,0.1],[2000,0.12],[2150,0.13],[2170,0.25],[2200,0.15],[2500,0.16],[3000,0.2],[3020,0.3],[3040,0.21],[3200,0.22],[3220,0.28],[3240,0.22],[3600,0.24],[3620,0.56],[3640,0.26],[3900,0.27],[3920,0.45],[3940,0.28],[4100,0.29],[4120,0.52],[4140,0.3],[4650,0.32],[4670,0.52],[4690,0.33],[5100,0.35],[5120,0.6],[5140,0.36],[5500,0.37],[5520,0.55],[5540,0.38],[6000,0.39],[6020,0.6],[6040,0.4],[6250,0.4],[6270,0.62],[6290,0.41],[6700,0.42],[6720,0.72],[6740,0.43],[7150,0.44],[7170,0.84],[7190,0.45],[7500,0.46],[7520,0.62],[7540,0.46],[8000,0.47],[8200,0.48],[8220,0.62],[8240,0.48],[8700,0.49],[8720,0.68],[8740,0.5],[9200,0.51],[9230,1.0],[9300,1.0],[9320,1.15],[9340,1.0],[9450,1.0],[9470,1.15],[9490,0.98],[9580,0.98],[9600,1.8],[9620,1.2],[9630,2.7],[9650,1.0],[9700,1.0],[9800,1.05],[9820,1.2],[9840,1.0],[9950,1.02],[9970,1.15],[10000,1.0]];

// y-axis ranges (max, tick step) per panel
const Y_MAX = [10, 7.88, 6, 5.16, 7.74, 4.58, 5.09, 5.79, 4.28, 5.09];
const Y_STEP = [2, 1, 1, 1, 1, 0.5, 1, 1, 0.5, 1];
const X_MAX = 10000;
const X_STEP = 2000;

// ---------- layout (plot-area rectangles, page pixels) ----------
const RECTS = [
  [24, 7, 457, 313],
  [632, 7, 1070, 313],
  [22, 333, 456, 639],
  [634, 333, 1068, 638],
  [23, 659, 457, 964],
  [642, 659, 1067, 964],
  [22, 984, 457, 1289],
  [634, 984, 1067, 1289],
  [27, 1310, 454, 1613],
  [632, 1310, 1068, 1613],
];

const SERIES: [number[], number[][]][] = [
  [P1_GREEN, P1_BLUE], [P2_GREEN, P2_BLUE], [P3_GREEN, P3_BLUE], [P4_GREEN, P4_BLUE],
  [P5_GREEN, P5_BLUE], [P6_GREEN, P6_BLUE], [P7_GREEN, P7_BLUE], [P8_GREEN, P8_BLUE],
  [P9_GREEN, P9_BLUE], [P10_GREEN, P10_BLUE],
];

const GREEN = "#3b8a1d";
const BLUE = "#1e50f5";
const PAD_L = 40, PAD_T = 8, PAD_R = 25, PAD_B = 20;

const framePlugin = {
  id: "gnuframe",
  afterDatasetsDraw(chart: any) {
    const { ctx, chartArea: a, scales } = chart;
    const L = 4;
    ctx.save();
    ctx.strokeStyle = "#000";
    ctx.lineWidth = 1;
    ctx.beginPath();
    for (const t of scales.x.ticks) {
      const px = Math.round(scales.x.getPixelForValue(t.value)) + 0.5;
      if (px <= a.left + 1 || px >= a.right - 1) continue;
      ctx.moveTo(px, a.bottom); ctx.lineTo(px, a.bottom - L);
      ctx.moveTo(px, a.top); ctx.lineTo(px, a.top + L);
    }
    for (const t of scales.y.ticks) {
      const py = Math.round(scales.y.getPixelForValue(t.value)) + 0.5;
      if (py <= a.top + 1 || py >= a.bottom - 1) continue;
      ctx.moveTo(a.left, py); ctx.lineTo(a.left + L, py);
      ctx.moveTo(a.right, py); ctx.lineTo(a.right - L, py);
    }
    ctx.stroke();
    ctx.lineWidth = 1.5;
    ctx.strokeRect(a.left, a.top, a.right - a.left, a.bottom - a.top);
    ctx.restore();
  },
};

const flatToXY = (arr: number[]) => {
  const out: { x: number; y: number }[] = [];
  for (let i = 0; i + 1 < arr.length; i += 2) out.push({ x: arr[i], y: arr[i + 1] });
  return out;
};
const pairsToXY = (arr: number[][]) => arr.map(([x, y]) => ({ x, y }));
const fmt = (v: number) => String(Math.round(v * 100) / 100).replace(".", ",");

function Panel({ idx }: { idx: number }) {
  const ref = useRef<HTMLCanvasElement | null>(null);
  const [L, T, R, B] = RECTS[idx];
  const w = R - L + PAD_L + PAD_R;
  const h = B - T + PAD_T + PAD_B;
  useEffect(() => {
    if (!ref.current) return;
    const [green, blue] = SERIES[idx];
    const chart = new Chart(ref.current, {
      type: "line",
      data: {
        datasets: [
          { data: pairsToXY(blue), borderColor: BLUE, borderWidth: 1, pointRadius: 0, stepped: true, fill: false, order: 0 },
          { data: flatToXY(green), borderColor: GREEN, borderWidth: 1, pointRadius: 0, stepped: true, fill: false, order: 1 },
        ],
      },
      options: {
        animation: false,
        responsive: false,
        events: [],
        layout: { padding: { left: 0, top: PAD_T, right: PAD_R, bottom: 0 } },
        plugins: { legend: { display: false }, tooltip: { enabled: false } },
        scales: {
          x: {
            type: "linear",
            min: 0,
            max: X_MAX,
            grid: { display: false, drawTicks: false, tickLength: 0 },
            border: { display: false },
            ticks: { stepSize: X_STEP, padding: 5, color: "#000", maxRotation: 0, autoSkip: false, callback: (v: any) => String(v) },
            afterFit: (s: any) => { s.height = PAD_B; },
          },
          y: {
            type: "linear",
            min: 0,
            max: Y_MAX[idx],
            grid: { display: false, drawTicks: false, tickLength: 0 },
            border: { display: false },
            ticks: { stepSize: Y_STEP[idx], includeBounds: false, padding: 4, color: "#000", autoSkip: false, callback: (v: any) => fmt(Number(v)) },
            afterFit: (s: any) => { s.width = PAD_L; },
          },
        },
      },
      plugins: [framePlugin],
    } as any);
    return () => chart.destroy();
  }, [idx]);
  return (
    <canvas
      ref={ref}
      width={w}
      height={h}
      style={{ position: "absolute", left: L - PAD_L, top: T - PAD_T, width: w, height: h }}
    />
  );
}

export default function App() {
  Chart.defaults.font.family = "'Liberation Sans', Arial, sans-serif";
  Chart.defaults.font.size = 8;
  Chart.defaults.color = "#000";
  return (
    <div style={{ position: "absolute", left: 0, top: 0, width: 1086, height: 1632, background: "#fff" }}>
      {RECTS.map((_, i) => (
        <Panel key={i} idx={i} />
      ))}
    </div>
  );
}
